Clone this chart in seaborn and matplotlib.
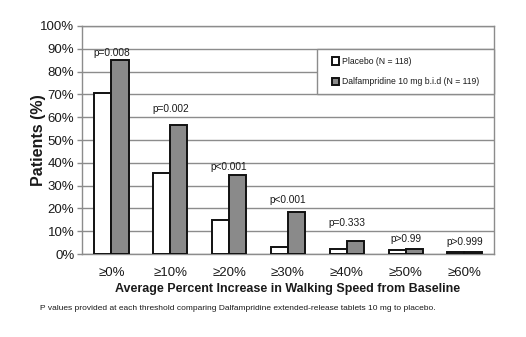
import numpy as np
import pandas as pd
import matplotlib
matplotlib.use("Agg")
import matplotlib.pyplot as plt
from matplotlib.patches import Rectangle
import seaborn as sns

categories = ["\u22650%", "\u226510%", "\u226520%", "\u226530%", "\u226540%", "\u226550%", "\u226560%"]
placebo = [70.5, 35.5, 15.0, 3.2, 2.2, 1.7, 0.9]
dalfampridine = [85.0, 56.5, 34.7, 18.5, 5.9, 2.3, 0.9]
p_labels = ["p=0.008", "p=0.002", "p<0.001", "p<0.001", "p=0.333", "p>0.99", "p>0.999"]
series_names = ["Placebo (N = 118)", "Dalfampridine 10 mg b.i.d (N = 119)"]
y_ticks = [0, 10, 20, 30, 40, 50, 60, 70, 80, 90, 100]

# style: vertical gap (points) between each bar pair and its p-value label
label_gaps = [1.4, 7.9, 2.2, 5.0, 9.4, 3.6, 3.6]

df = pd.DataFrame({
    "Threshold": categories * 2,
    "Series": [series_names[0]] * len(categories) + [series_names[1]] * len(categories),
    "Value": placebo + dalfampridine,
})

sns.set_theme(style="white")
plt.rcParams["font.family"] = ["Liberation Sans", "DejaVu Sans"]
text_color = "#1a1a1a"
grid_color = "#8c8c8c"

fig = plt.figure(figsize=(5.26, 3.37), dpi=100)
ax = fig.add_axes([0.156, 0.246, 0.783, 0.677])

sns.barplot(data=df, x="Threshold", y="Value", hue="Series", order=categories,
            hue_order=series_names, palette=["white", "#8a8a8a"], width=0.58,
            edgecolor="#111111", linewidth=1.4, ax=ax, zorder=3, legend=True)

ax.set_ylim(0, 100)
ax.set_xlim(-0.5, len(categories) - 0.5)
ax.set_yticks(y_ticks)
ax.set_yticklabels([f"{v}%" for v in y_ticks], fontsize=9.5, color=text_color)
ax.set_xticks(range(len(categories)))
ax.set_xticklabels(categories, fontsize=9.5, color=text_color)
ax.set_xticks(np.arange(-0.5, len(categories), 1), minor=True)
ax.tick_params(axis="x", which="major", length=0, pad=9)
ax.tick_params(axis="x", which="minor", length=4, color=grid_color, width=1)
ax.tick_params(axis="y", which="major", length=3.5, color=grid_color, width=1, pad=2, left=True)
ax.yaxis.grid(True, color=grid_color, linewidth=1, zorder=0)
ax.set_axisbelow(True)
for s in ax.spines.values():
    s.set_visible(True)
    s.set_color(grid_color)
    s.set_linewidth(1)

ax.set_xlabel("Average Percent Increase in Walking Speed from Baseline",
              fontsize=9.0, fontweight="bold", color=text_color, labelpad=3)
ax.set_ylabel("Patients (%)", fontsize=11.5, fontweight="bold", color=text_color, labelpad=-4)

for i, lab in enumerate(p_labels):
    top = max(placebo[i], dalfampridine[i])
    ax.annotate(lab, xy=(i, top), xytext=(0, label_gaps[i]), textcoords="offset points",
                ha="center", va="bottom", fontsize=7.3, color=text_color)

# legend frame box spanning the 70%-90% grid band at the right of the plot
ax.add_patch(Rectangle((0.570, 0.70), 0.430, 0.20, transform=ax.transAxes,
                       facecolor="white", edgecolor=grid_color, linewidth=1,
                       zorder=4, clip_on=False))
leg = ax.legend(loc="center", bbox_to_anchor=(0.785, 0.80), borderaxespad=0,
                frameon=False, fontsize=6.2, handlelength=0.9,
                handleheight=0.9, handletextpad=0.3, labelspacing=1.3,
                borderpad=0.2)
leg.set_zorder(5)
for t in leg.get_texts():
    t.set_color(text_color)

fig.text(0.076, 0.085,
         "P values provided at each threshold comparing Dalfampridine extended-release tablets 10 mg to placebo.",
         fontsize=6.0, color=text_color, ha="left", va="center")

fig.savefig("out.png", dpi=100)
